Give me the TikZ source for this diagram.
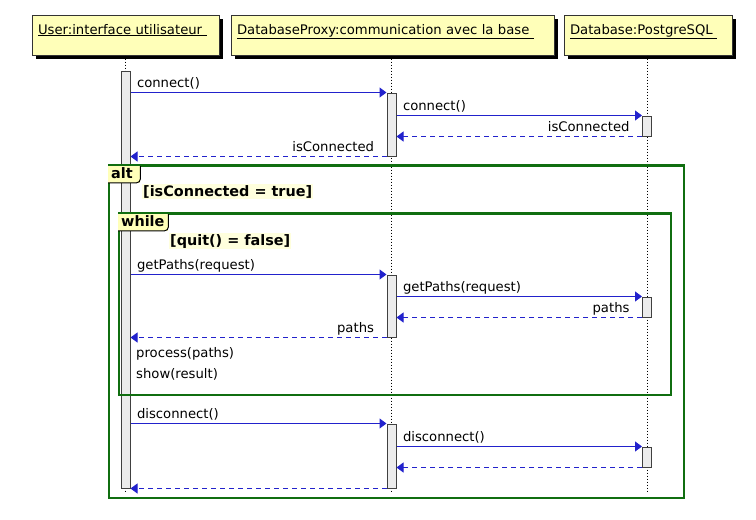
\documentclass[tikz,border=0pt]{standalone}
\usepackage{fontspec}
\setmainfont{DejaVu Sans}
\usetikzlibrary{arrows.meta,shadows}

\definecolor{headfill}{RGB}{255,255,185}
\definecolor{guardfill}{RGB}{255,255,221}
\definecolor{actfill}{RGB}{236,236,236}
\definecolor{msgblue}{RGB}{34,34,204}
\definecolor{framegreen}{RGB}{16,110,16}

\begin{document}
\begin{tikzpicture}[x=1pt, y=-1pt,
    every node/.style={font=\fontsize{13.2}{16}\selectfont},
    head/.style={draw=black!80, line width=1pt, fill=headfill, minimum height=40pt, inner xsep=6pt,
      align=left, text height=10pt, text depth=12pt,
      drop shadow={shadow xshift=4pt, shadow yshift=-4pt, fill=black, opacity=1}},
    life/.style={line width=1pt, dash pattern=on 1pt off 2pt},
    act/.style={draw=black!75, fill=actfill, line width=1pt, minimum width=9pt, inner sep=0pt},
    call/.style={draw=msgblue, line width=1pt, -{Triangle[length=7pt,width=10pt]}},
    reply/.style={call, dash pattern=on 5pt off 4pt},
    msg/.style={anchor=base west, inner sep=0pt, xshift=6pt, yshift=5pt},
    ret/.style={anchor=base east, inner sep=0pt, xshift=-12pt, yshift=5pt},
    note/.style={anchor=base west, inner sep=0pt},
    frame/.style={draw=framegreen, line width=2pt, inner sep=0pt, anchor=north west},
    tab/.style={fill=headfill, font=\bfseries\fontsize{14.4}{17}\selectfont, anchor=north west,
      inner xsep=3pt, inner ysep=1pt, text height=12.5pt, text depth=3pt, align=left},
    guard/.style={fill=guardfill, font=\bfseries\fontsize{14.4}{17}\selectfont, inner sep=1pt, anchor=base west}]

  \useasboundingbox (0,0) rectangle (756,520);

  \node[head, text width=175pt] (user) at (125.5,35) {\underline{User:interface utilisateur~}};
  \node[head, text width=311pt] (proxy) at (392.5,35) {\underline{DatabaseProxy:communication avec la base~}};
  \node[head, text width=156pt] (db) at (648,35) {\underline{Database:PostgreSQL~}};

  \coordinate (bottom) at (0,491);
  \draw[life] (user.south) -- (user.south |- bottom);
  \draw[life] ([xshift=-1pt]proxy.south) -- ([xshift=-1pt]proxy.south |- bottom);
  \draw[life] ([xshift=-1pt]db.south) -- ([xshift=-1pt]db.south |- bottom);

  \node[act, minimum height=417pt] (ua) at (125.5,279.5) {};
  \node[act, minimum height=63pt] (pa1) at (391.5,124.5) {};
  \node[act, minimum height=20pt] (da1) at (647,126) {};
  \node[act, minimum height=62pt] (pa2) at (391.5,306) {};
  \node[act, minimum height=20pt] (da2) at (647,307) {};
  \node[act, minimum height=64pt] (pa3) at (391.5,456) {};
  \node[act, minimum height=20pt] (da3) at (647,457) {};

  \draw[call] (pa1.north west -| ua.east) -- (pa1.north west) node[msg, at start] {connect()};
  \draw[call] (pa1.east |- da1.north) -- (da1.north west) node[msg, at start] {connect()};
  \draw[reply] (da1.south west) -- (da1.south west -| pa1.east) node[ret, at start] {isConnected};
  \draw[reply] (pa1.south west) -- (pa1.south west -| ua.east) node[ret, at start] {isConnected};

  \draw[call] (pa2.north west -| ua.east) -- (pa2.north west) node[msg, at start] {getPaths(request)};
  \draw[call] (pa2.east |- da2.north) -- (da2.north west) node[msg, at start] {getPaths(request)};
  \draw[reply] (da2.south west) -- (da2.south west -| pa2.east) node[ret, at start] {paths};
  \draw[reply] (pa2.south west) -- (pa2.south west -| ua.east) node[ret, at start] {paths};
  \node[note] (process) at (136,357) {process(paths)};
  \node[note] (show) at (136,378) {show(result)};

  \draw[call] (pa3.north west -| ua.east) -- (pa3.north west) node[msg, at start] {disconnect()};
  \draw[call] (pa3.east |- da3.north) -- (da3.north west) node[msg, at start] {disconnect()};
  \draw[reply] (da3.south west) -- (da3.south west -| pa3.east);
  \draw[reply] (pa3.south west) -- (pa3.south west -| ua.east);

  \node[frame, minimum width=575pt, minimum height=332pt] (alt) at (108,165) {};
  \node[frame, minimum width=552pt, minimum height=181pt] (loop) at (118,213) {};

  \node[tab, text width=26pt] (alttab) at (alt.north west) {alt};
  \draw[line width=1pt] (alttab.north east) [rounded corners=4pt] -- (alttab.south east) -- (alttab.south west);
  \node[tab, text width=44pt] (looptab) at (loop.north west) {while};
  \draw[line width=1pt] (looptab.north east) [rounded corners=4pt] -- (looptab.south east) -- (looptab.south west);
  \draw[frame] (alt.north west) -- (alt.north east);
  \draw[frame] (loop.north west) -- (loop.north east);

  \node[guard] (altguard) at (142,196) {[isConnected = true]};
  \node[guard] (loopguard) at (169,245) {[quit() = false]};
\end{tikzpicture}
\end{document}
